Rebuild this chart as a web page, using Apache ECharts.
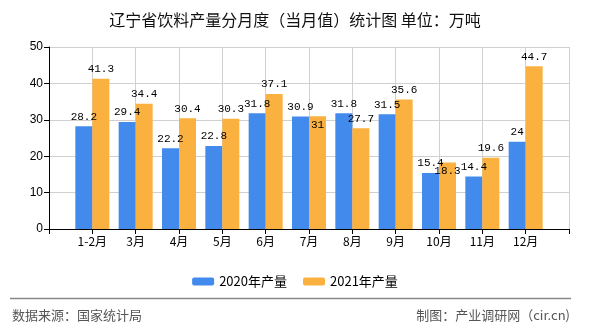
<!DOCTYPE html>
<html>
<head>
<meta charset="utf-8">
<script src="https://cdn.jsdelivr.net/npm/echarts@6/dist/echarts.min.js"></script>
<style>html,body{margin:0;padding:0;background:#fff}#c{width:590px;height:330px}</style>
</head>
<body>
<div id="c"></div>
<script>
var categories = ['1-2月', '3月', '4月', '5月', '6月', '7月', '8月', '9月', '10月', '11月', '12月'];
var values2020 = [28.2, 29.4, 22.2, 22.8, 31.8, 30.9, 31.8, 31.5, 15.4, 14.4, 24];
var values2021 = [41.3, 34.4, 30.4, 30.3, 37.1, 31, 27.7, 35.6, 18.3, 19.6, 44.7];
var seriesNames = ['2020年产量', '2021年产量'];
var titleText = '辽宁省饮料产量分月度（当月值）统计图 单位：万吨';
var sourceText = '数据来源：国家统计局';
var makerText = '制图：产业调研网（cir.cn)';

// labels displaced inside the bar in the reference (overlap avoidance)
var insideIdx2021 = [5, 8];

var axisCats = [''].concat(categories).concat(['']);
function pad(arr, inside) {
  var out = [null];
  arr.forEach(function (v, i) {
    if (inside && inside.indexOf(i) >= 0) {
      out.push({ value: v, label: { position: 'insideTop', distance: 3 } });
    } else {
      out.push(v);
    }
  });
  out.push(null);
  return out;
}

var monoFont = '"Liberation Mono","DejaVu Sans Mono",monospace';
var cjkFont = '"Noto Sans CJK SC","Noto Sans",sans-serif';

var chart = echarts.init(document.getElementById('c'));
chart.setOption({
  animation: false,
  backgroundColor: '#fff',
  title: {
    text: titleText,
    left: 'center',
    top: 7,
    textStyle: { fontFamily: cjkFont, fontSize: 16, fontWeight: 'normal', color: '#111' }
  },
  legend: {
    top: 270,
    left: 'center',
    itemWidth: 22,
    itemHeight: 8,
    itemGap: 16,
    textStyle: { fontFamily: cjkFont, fontSize: 13, color: '#000' },
    data: seriesNames
  },
  grid: { left: 49, right: 21, top: 47, bottom: 101, containLabel: false },
  xAxis: {
    type: 'category',
    data: axisCats,
    boundaryGap: false,
    axisLine: { lineStyle: { color: '#000', width: 1 } },
    axisTick: { show: true, length: 5, lineStyle: { color: '#000' } },
    axisLabel: { fontFamily: cjkFont, fontSize: 12, color: '#000', margin: 6, interval: 0 },
    splitLine: { show: true, lineStyle: { color: '#d0d0d0', width: 1 } }
  },
  yAxis: {
    type: 'value',
    min: 0,
    max: 50,
    interval: 10,
    axisLine: { show: true, lineStyle: { color: '#000', width: 1 } },
    axisTick: { show: true, length: 5, lineStyle: { color: '#000' } },
    axisLabel: { fontFamily: '"Liberation Sans",sans-serif', fontSize: 12, color: '#000', margin: 6 },
    splitLine: { show: true, lineStyle: { color: '#d0d0d0', width: 1 } }
  },
  series: [
    {
      name: seriesNames[0],
      type: 'bar',
      barWidth: 17,
      barGap: '0%',
      itemStyle: { color: '#428bed' },
      label: { show: true, position: 'top', distance: 4, fontFamily: monoFont, fontSize: 11, color: '#000' },
      data: pad(values2020)
    },
    {
      name: seriesNames[1],
      type: 'bar',
      barWidth: 17,
      barGap: '0%',
      itemStyle: { color: '#fbb13f' },
      label: { show: true, position: 'top', distance: 4, fontFamily: monoFont, fontSize: 11, color: '#000' },
      data: pad(values2021, insideIdx2021)
    }
  ],
  graphic: [
    {
      type: 'line',
      shape: { x1: 10, y1: 298.5, x2: 571, y2: 298.5 },
      style: { stroke: '#888', lineWidth: 1.5 }
    },
    {
      type: 'text',
      left: 12,
      top: 309,
      style: { text: sourceText, font: '13px ' + cjkFont, fill: '#555' }
    },
    {
      type: 'text',
      right: 20,
      top: 309,
      style: { text: makerText, font: '13px ' + cjkFont, fill: '#555' }
    }
  ]
});
</script>
</body>
</html>
